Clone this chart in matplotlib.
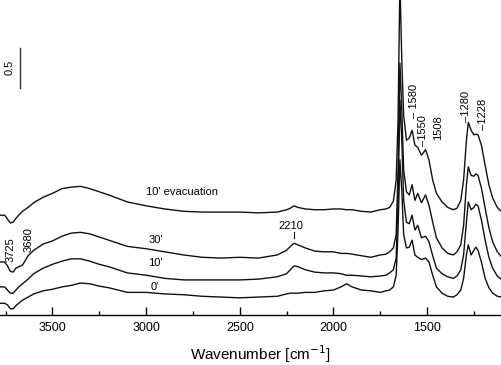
import matplotlib
matplotlib.use("Agg")
import matplotlib.pyplot as plt
from matplotlib.ticker import MultipleLocator

plt.rcParams["font.family"] = ["Liberation Sans", "DejaVu Sans"]

# wavenumber grid shared by all spectra (cm-1)
wavenumber = [
    3780, 3755, 3740, 3725, 3710, 3695, 3680, 3660, 3630, 3600, 3550, 3500,
    3450, 3400, 3350, 3300, 3250, 3200, 3100, 3000, 2900, 2800, 2700, 2600,
    2500, 2400, 2300, 2250, 2230, 2210, 2190, 2150, 2100, 2050, 2000, 1960,
    1930, 1900, 1850, 1800, 1750, 1720, 1700, 1680, 1665, 1655, 1645, 1635,
    1625, 1610, 1595, 1580, 1565, 1550, 1530, 1508, 1490, 1470, 1450, 1420,
    1390, 1360, 1340, 1320, 1305, 1290, 1280, 1265, 1250, 1240, 1228, 1210,
    1190, 1170, 1150, 1125, 1100,
]

# absorbance (with vertical offsets as in the figure)
abs_evac10 = [
    1.28, 1.28, 1.23, 1.18, 1.19, 1.24, 1.28, 1.33, 1.38, 1.44, 1.51, 1.56,
    1.62, 1.64, 1.65, 1.62, 1.58, 1.54, 1.45, 1.40, 1.36, 1.33, 1.32, 1.32,
    1.32, 1.31, 1.32, 1.35, 1.37, 1.40, 1.38, 1.36, 1.35, 1.35, 1.36, 1.36,
    1.35, 1.35, 1.33, 1.32, 1.35, 1.36, 1.38, 1.46, 1.73, 2.50, 4.29, 3.27,
    2.56, 2.24, 2.27, 2.37, 2.18, 2.15, 2.05, 2.12, 1.99, 1.73, 1.56, 1.45,
    1.38, 1.35, 1.37, 1.47, 1.73, 2.24, 2.47, 2.37, 2.31, 2.32, 2.31, 2.18,
    1.92, 1.67, 1.50, 1.38, 1.32,
]
abs_30 = [
    0.68, 0.68, 0.63, 0.56, 0.55, 0.60, 0.62, 0.64, 0.76, 0.83, 0.91, 0.95,
    1.01, 1.05, 1.06, 1.04, 1.00, 0.96, 0.88, 0.85, 0.81, 0.77, 0.74, 0.73,
    0.74, 0.73, 0.77, 0.83, 0.88, 0.92, 0.90, 0.86, 0.82, 0.81, 0.81, 0.79,
    0.79, 0.78, 0.76, 0.74, 0.77, 0.78, 0.81, 0.86, 1.03, 1.86, 3.23, 2.63,
    1.86, 1.58, 1.54, 1.67, 1.47, 1.56, 1.44, 1.54, 1.41, 1.19, 0.99, 0.86,
    0.79, 0.77, 0.81, 0.90, 1.15, 1.67, 1.90, 1.79, 1.78, 1.81, 1.79, 1.63,
    1.37, 1.12, 0.94, 0.81, 0.74,
]
abs_10 = [
    0.36, 0.36, 0.32, 0.28, 0.28, 0.32, 0.36, 0.40, 0.46, 0.53, 0.60, 0.65,
    0.69, 0.72, 0.72, 0.69, 0.65, 0.62, 0.54, 0.51, 0.47, 0.45, 0.45, 0.45,
    0.45, 0.46, 0.49, 0.53, 0.58, 0.63, 0.62, 0.58, 0.55, 0.54, 0.54, 0.53,
    0.51, 0.51, 0.50, 0.49, 0.50, 0.51, 0.54, 0.58, 0.73, 1.47, 2.76, 2.24,
    1.47, 1.19, 1.17, 1.28, 1.09, 1.15, 0.99, 1.01, 0.94, 0.76, 0.60, 0.53,
    0.49, 0.47, 0.50, 0.58, 0.77, 1.19, 1.45, 1.35, 1.38, 1.42, 1.40, 1.22,
    0.96, 0.74, 0.60, 0.50, 0.45,
]
abs_0 = [
    0.15, 0.15, 0.13, 0.08, 0.08, 0.12, 0.15, 0.19, 0.23, 0.27, 0.31, 0.33,
    0.36, 0.38, 0.41, 0.40, 0.37, 0.35, 0.29, 0.29, 0.27, 0.26, 0.24, 0.23,
    0.22, 0.23, 0.24, 0.27, 0.28, 0.28, 0.28, 0.29, 0.29, 0.31, 0.32, 0.36,
    0.40, 0.36, 0.32, 0.31, 0.29, 0.31, 0.32, 0.36, 0.51, 1.09, 1.99, 1.60,
    1.03, 0.86, 0.87, 0.96, 0.77, 0.74, 0.71, 0.73, 0.68, 0.51, 0.36, 0.28,
    0.24, 0.23, 0.26, 0.32, 0.47, 0.77, 0.90, 0.77, 0.83, 0.87, 0.83, 0.68,
    0.47, 0.35, 0.28, 0.24, 0.23,
]

curve_labels = ["10' evacuation", "30'", "10'", "0'"]

fig = plt.figure(figsize=(5.02, 3.65), dpi=100)
ax = fig.add_axes([0.0, 0.137, 1.0, 0.863])

for series in (abs_evac10, abs_30, abs_10, abs_0):
    ax.plot(wavenumber, series, color="#111111", lw=1.0)

ax.set_xlim(3780, 1100)
ax.set_ylim(0, 4.04)

for side in ("left", "right", "top"):
    ax.spines[side].set_visible(False)
ax.spines["bottom"].set_linewidth(1.0)
ax.set_yticks([])
ax.xaxis.set_major_locator(MultipleLocator(500))
ax.xaxis.set_minor_locator(MultipleLocator(250))
ax.tick_params(axis="x", which="major", direction="in", length=6, width=1.0,
               labelsize=9, pad=5)
ax.tick_params(axis="x", which="minor", direction="in", length=3, width=1.0)

fig.text(0.518, 0.03, "Wavenumber [cm$^{-1}$]", ha="center", va="center",
         fontsize=11)

# curve labels
ax.text(3000, 1.58, curve_labels[0], fontsize=8, va="center")
ax.text(2988, 0.96, curve_labels[1], fontsize=8, va="center")
ax.text(2988, 0.67, curve_labels[2], fontsize=8, va="center")
ax.text(2977, 0.36, curve_labels[3], fontsize=8, va="center")

# band annotations
ax.text(2229, 1.14, "2210", fontsize=8, ha="center", va="center")
ax.plot([2212, 2212], [0.99, 1.06], color="#111111", lw=0.8)

rot_kw = dict(fontsize=8, rotation=90, ha="center", va="bottom")
ax.text(3726, 0.68, "3725", **rot_kw)
ax.text(3625, 0.81, "3680", **rot_kw)
ax.text(1570, 2.53, "\u2013 1580", **rot_kw)
ax.text(1522, 2.17, "\u20131550", **rot_kw)
ax.text(1442, 2.24, "1508", **rot_kw)
ax.text(1292, 2.47, "\u20131280", **rot_kw)
ax.text(1201, 2.37, "\u20131228", **rot_kw)

# scale bar
ax.plot([3673, 3673], [2.91, 3.42], color="#333333", lw=1.0)
ax.text(3727, 3.17, "0.5", fontsize=8, rotation=90, ha="center", va="center")

fig.savefig("out.png", dpi=100)
